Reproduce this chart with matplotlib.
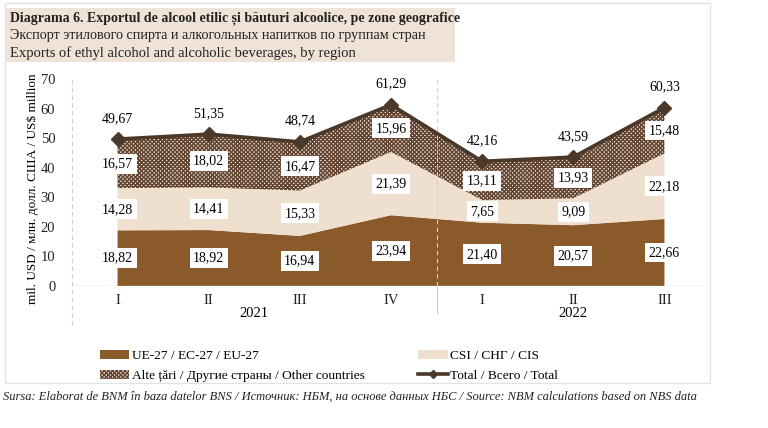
import matplotlib.pyplot as plt
from matplotlib.patches import Rectangle, Patch
from matplotlib.lines import Line2D

# Daten (mil. USD)
quarters = ['I', 'II', 'III', 'IV', 'I', 'II', 'III']
years = ['2021', '2022']
eu = [18.82, 18.92, 16.94, 23.94, 21.40, 20.57, 22.66]
cis = [14.28, 14.41, 15.33, 21.39, 7.65, 9.09, 22.18]
other = [16.57, 18.02, 16.47, 15.96, 13.11, 13.93, 15.48]
total = [49.67, 51.35, 48.74, 61.29, 42.16, 43.59, 60.33]

c_eu = '#8b5a2b'
c_cis = '#eedfcf'
c_hatch = '#634531'
c_total = '#4a382b'
c_grid = '#d0d0d0'

plt.rcParams['font.family'] = ['Liberation Serif', 'DejaVu Serif']
plt.rcParams['hatch.linewidth'] = 1.1


def fmt(v):
    return f'{v:.2f}'.replace('.', ',')


fig = plt.figure(figsize=(7.68, 4.28), dpi=100)
fig.patch.set_facecolor('white')

# Rahmen und Titelbox
fig.patches.append(Rectangle((5 / 768, 1 - 383 / 428), 705 / 768, 380 / 428,
                             transform=fig.transFigure, fill=False,
                             edgecolor='#e2e2e2', lw=1.0))
fig.patches.append(Rectangle((5 / 768, 1 - 62 / 428), 450 / 768, 54 / 428,
                             transform=fig.transFigure, facecolor='#eee3d6',
                             edgecolor='none'))
fig.text(10 / 768, 1 - 18 / 428,
         'Diagrama 6. Exportul de alcool etilic și băuturi alcoolice, pe zone geografice',
         fontsize=10, fontweight='bold', va='center', color='#222222')
fig.text(10 / 768, 1 - 36 / 428,
         'Экспорт этилового спирта и алкогольных напитков по группам стран',
         fontsize=10.2, va='center', color='#222222')
fig.text(10 / 768, 1 - 53 / 428,
         'Exports of ethyl alcohol and alcoholic beverages, by region',
         fontsize=10.5, va='center', color='#222222')

ax = fig.add_axes([72 / 768, 1 - 286 / 428, 638 / 768, 207 / 428])
x = list(range(len(quarters)))
polys = ax.stackplot(x, eu, cis, other, colors=[c_eu, c_cis, '#f3ebe2'])
polys[2].set_hatch('xxxxxxxx')
polys[2].set_edgecolor(c_hatch)
polys[2].set_linewidth(0)
ax.plot(x, total, color=c_total, lw=2.6, marker='D', markersize=7, zorder=5)

box = dict(facecolor='white', edgecolor='none', pad=2.5)
for i in x:
    ax.text(i, eu[i] / 2, fmt(eu[i]), ha='center', va='center', fontsize=10, bbox=box)
    ax.text(i, eu[i] + cis[i] / 2, fmt(cis[i]), ha='center', va='center', fontsize=10, bbox=box)
    ax.text(i, eu[i] + cis[i] + other[i] / 2, fmt(other[i]), ha='center', va='center',
            fontsize=10, bbox=box)
    ax.annotate(fmt(total[i]), (i, total[i]), xytext=(0, 15), textcoords='offset points',
                ha='center', va='center', fontsize=10)

ax.set_xlim(-0.5, len(quarters) - 0.5)
ax.set_ylim(0, 70)
ax.set_yticks(range(0, 71, 10))
ax.set_xticks(x)
ax.set_xticklabels(quarters)
ax.tick_params(length=0, labelsize=10.5, colors='#222222')
ax.tick_params(axis='y', pad=12)
ax.tick_params(axis='x', pad=6)
for s in ax.spines.values():
    s.set_visible(False)
ax.axhline(0, color=c_grid, lw=1, zorder=6)

tr = ax.get_xaxis_transform()
ax.plot([-0.5, -0.5], [-0.19, 1], transform=tr, color=c_grid, lw=0.8, ls=(0, (4, 3)),
        clip_on=False)
ax.plot([3.5, 3.5], [0, 1], transform=tr, color=c_grid, lw=0.8, ls=(0, (4, 3)),
        clip_on=False)
ax.plot([3.5, 3.5], [-0.13, 0], transform=tr, color=c_grid, lw=0.8, clip_on=False)
ax.text(1.5, -0.135, years[0], transform=tr, ha='center', va='center', fontsize=10.5)
ax.text(5, -0.135, years[1], transform=tr, ha='center', va='center', fontsize=10.5)
ax.set_ylabel('mil. USD / млн. долл. США / US$ million', fontsize=9.5)
ax.yaxis.set_label_coords(-0.052, 0.47)

handles = [Patch(facecolor=c_eu, edgecolor='none'),
           Patch(facecolor='#f3ebe2', edgecolor=c_hatch, hatch='xxxxxxxx', lw=0),
           Patch(facecolor=c_cis, edgecolor='none'),
           Line2D([], [], color=c_total, lw=2.6, marker='D', markersize=4)]
labels = ['UE-27 / EC-27 / EU-27', 'Alte țări / Другие страны / Other countries',
          'CSI / СНГ / CIS', 'Total / Всего / Total']
fig.legend(handles, labels, ncol=2, loc='upper left',
           bbox_to_anchor=(88 / 768, 1 - 338 / 428), frameon=False, fontsize=9.6,
           handlelength=2.2, handletextpad=0.2, columnspacing=4.0, labelspacing=0.55)

fig.text(3 / 768, 1 - 397 / 428,
         'Sursa: Elaborat de BNM în baza datelor BNS / Источник: НБМ, на основе данных НБС / '
         'Source: NBM calculations based on NBS data',
         fontsize=9, style='italic', va='center', color='#222222')

fig.savefig('out.png', dpi=100)
